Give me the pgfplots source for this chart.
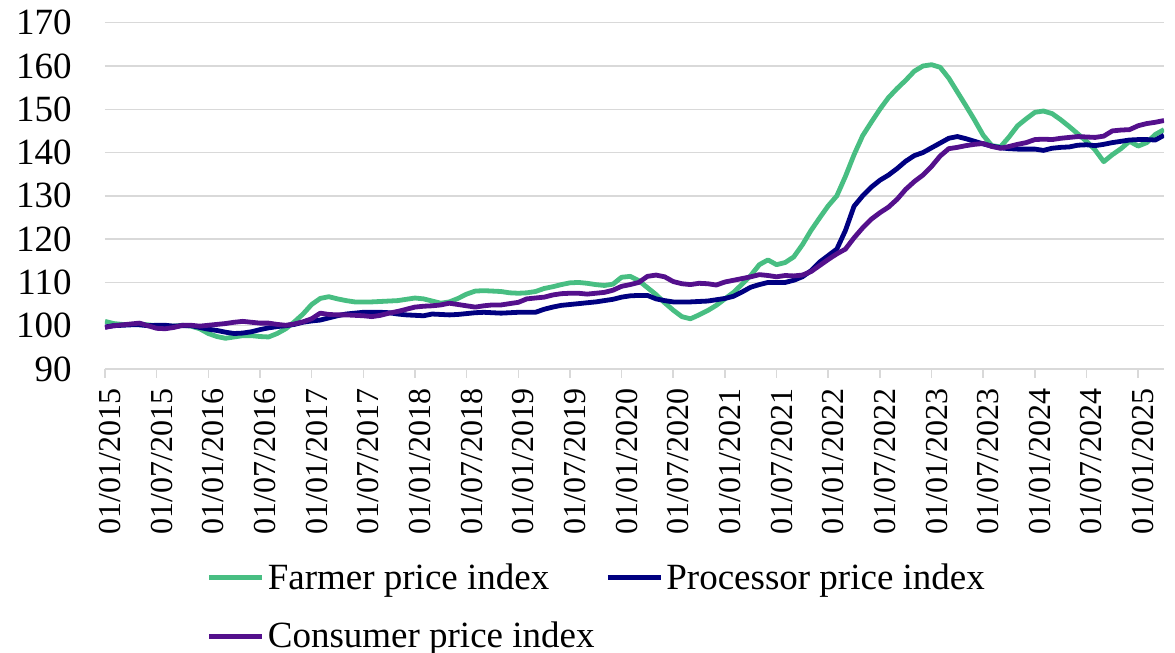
\documentclass[border=0pt]{standalone}
\usepackage{fontspec}
\setmainfont{Liberation Serif}
\usepackage{pgfplots}
\usepackage{pgfplotstable}
\pgfplotsset{compat=1.18}
\definecolor{farmer}{RGB}{72,190,130}
\definecolor{proc}{RGB}{0,0,128}
\definecolor{cons}{RGB}{84,16,140}
\definecolor{gridgray}{RGB}{217,217,217}

\pgfplotstableread{
m f p c
0 101.0 99.7 99.6
1 100.5 100.0 100.0
2 100.3 100.1 100.2
3 100.3 100.2 100.4
4 100.4 100.2 100.6
5 100.2 100.0 100.0
6 100.0 100.1 99.4
7 99.8 100.1 99.3
8 99.9 99.9 99.6
9 100.1 100.0 100.1
10 99.9 100.0 100.1
11 99.3 99.6 99.9
12 98.2 99.2 100.1
13 97.5 98.9 100.3
14 97.1 98.5 100.5
15 97.4 98.2 100.8
16 97.7 98.3 101.0
17 97.7 98.6 100.8
18 97.5 99.1 100.6
19 97.4 99.5 100.6
20 98.2 99.8 100.3
21 99.3 100.0 100.1
22 100.9 100.3 100.4
23 102.7 100.8 100.9
24 104.9 101.1 101.6
25 106.3 101.3 102.9
26 106.7 101.8 102.6
27 106.2 102.3 102.5
28 105.8 102.7 102.5
29 105.5 102.9 102.4
30 105.5 103.1 102.3
31 105.5 103.1 102.1
32 105.6 103.1 102.4
33 105.7 103.0 102.9
34 105.8 102.7 103.3
35 106.1 102.5 103.8
36 106.4 102.4 104.3
37 106.2 102.3 104.5
38 105.7 102.7 104.6
39 105.2 102.6 104.8
40 105.5 102.5 105.2
41 106.3 102.6 104.9
42 107.3 102.8 104.6
43 108.0 103.0 104.3
44 108.1 103.1 104.6
45 108.0 103.0 104.8
46 107.9 102.9 104.8
47 107.6 103.0 105.1
48 107.5 103.1 105.4
49 107.6 103.1 106.2
50 107.9 103.1 106.4
51 108.6 103.8 106.6
52 109.0 104.3 107.1
53 109.5 104.7 107.4
54 109.9 104.9 107.5
55 110.0 105.1 107.5
56 109.8 105.3 107.3
57 109.5 105.5 107.5
58 109.3 105.8 107.7
59 109.6 106.1 108.2
60 111.2 106.6 109.1
61 111.4 106.9 109.5
62 110.4 107.0 110.0
63 108.8 107.0 111.4
64 107.2 106.2 111.7
65 105.3 105.8 111.3
66 103.6 105.5 110.2
67 102.1 105.5 109.7
68 101.6 105.5 109.5
69 102.5 105.6 109.8
70 103.5 105.7 109.7
71 104.7 106.0 109.4
72 106.2 106.3 110.1
73 107.7 106.8 110.5
74 109.6 107.8 110.9
75 111.6 108.9 111.3
76 114.1 109.5 111.8
77 115.2 110.0 111.6
78 114.1 110.0 111.3
79 114.6 110.0 111.6
80 115.9 110.5 111.5
81 118.7 111.3 111.7
82 122.0 112.7 112.5
83 124.9 114.7 113.9
84 127.7 116.2 115.3
85 130.0 117.7 116.6
86 134.5 122.0 117.7
87 139.5 127.6 120.3
88 143.9 130.0 122.6
89 147.0 132.0 124.6
90 150.0 133.6 126.1
91 152.7 134.8 127.4
92 154.8 136.3 129.2
93 156.7 138.0 131.5
94 158.8 139.3 133.3
95 160.0 140.0 134.8
96 160.3 141.1 136.8
97 159.7 142.2 139.2
98 157.2 143.3 140.9
99 154.0 143.7 141.2
100 150.8 143.2 141.6
101 147.5 142.6 141.9
102 144.0 142.0 142.1
103 141.6 141.5 141.4
104 141.3 141.1 141.0
105 143.6 140.9 141.4
106 146.2 140.8 141.9
107 147.8 140.8 142.3
108 149.3 140.8 143.0
109 149.6 140.5 143.1
110 149.0 141.0 143.0
111 147.6 141.2 143.3
112 146.0 141.3 143.5
113 144.3 141.7 143.7
114 142.6 141.8 143.6
115 140.6 141.6 143.5
116 137.9 141.9 143.8
117 139.5 142.3 145.0
118 140.9 142.6 145.2
119 142.6 142.9 145.3
120 141.5 143.0 146.2
121 142.3 143.0 146.7
122 144.2 142.9 147.0
123 145.3 144.0 147.4
}\data

\begin{document}
\begin{tikzpicture}
\begin{axis}[
  at={(0,0)}, anchor=south west,
  scale only axis, width=529.5pt, height=173.15pt,
  xmin=0, xmax=123, ymin=90, ymax=170,
  ytick={90,100,...,170},
  xtick={0,6,...,120},
  xticklabels={01/01/2015,01/07/2015,01/01/2016,01/07/2016,01/01/2017,01/07/2017,01/01/2018,01/07/2018,01/01/2019,01/07/2019,01/01/2020,01/07/2020,01/01/2021,01/07/2021,01/01/2022,01/07/2022,01/01/2023,01/07/2023,01/01/2024,01/07/2024,01/01/2025},
  separate axis lines,
  x axis line style={draw=gridgray, line width=0.75pt},
  y axis line style={draw=none},
  xtick pos=left,
  ytick pos=left,
  tick align=outside,
  major tick length=4.5pt,
  xtick style={draw=gridgray, line width=0.75pt},
  ytick style={draw=none},
  ymajorgrids,
  grid style={draw=gridgray, line width=0.75pt},
  /pgf/number format/assume math mode=true,
  yticklabel style={font=\fontsize{18.5}{22}\selectfont, inner sep=0pt, anchor=east, xshift=-12pt},
  xticklabel style={font=\fontsize{16}{19}\selectfont, inner sep=0pt, xshift=2.5pt, yshift=-5pt, rotate=90, anchor=east},
  legend columns=2,
  legend style={at={(0.096,-0.5515)}, anchor=north west, draw=none, fill=none, inner sep=0pt,
    font=\fontsize{18.5}{22}\selectfont, cells={anchor=west}, row sep=12pt,
    nodes={inner sep=1.5pt},
    /tikz/every even column/.append style={column sep=4pt}},
  legend image code/.code={\draw[#1,line width=2.4pt] (0pt,0pt) -- (26.5pt,0pt);},
]
\addplot[farmer, line width=2.4pt, line join=round, no markers] table[x=m,y=f]{\data};
\addlegendentry{Farmer price index}
\addplot[proc, line width=2.4pt, line join=round, no markers] table[x=m,y=p]{\data};
\addlegendentry{Processor price index}
\addplot[cons, line width=2.4pt, line join=round, no markers] table[x=m,y=c]{\data};
\addlegendentry{Consumer price index}
\end{axis}
\pgfresetboundingbox
\path (-52.5pt,-142pt) rectangle (535pt,184.5pt);
\end{tikzpicture}
\end{document}
